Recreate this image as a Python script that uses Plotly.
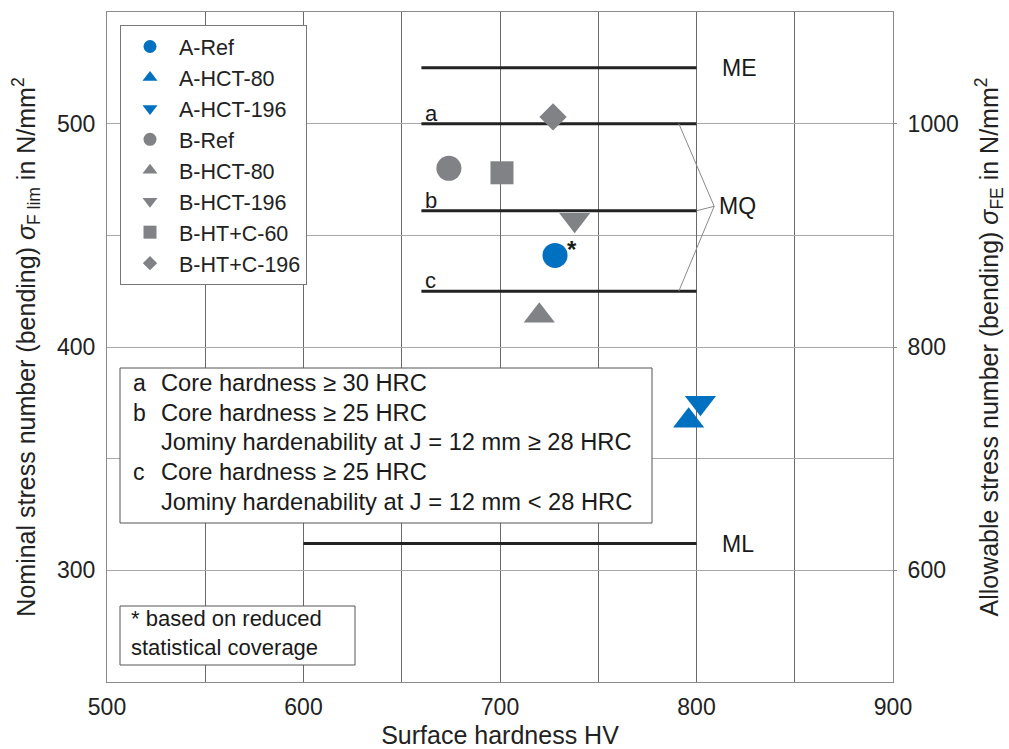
import plotly.graph_objects as go

# Test results: surface hardness (HV) vs. nominal bending stress number (N/mm^2)
series_names = ["A-Ref", "A-HCT-80", "A-HCT-196", "B-Ref", "B-HCT-80",
                "B-HCT-196", "B-HT+C-60", "B-HT+C-196"]
hardness_hv = [728, 796, 802, 674, 720, 738, 701, 727]
stress_flim = [441, 367, 375, 480, 414, 457, 478, 503]
series_colors = ["#0070C0", "#0070C0", "#0070C0", "#808285", "#808285",
                 "#808285", "#808285", "#808285"]
series_symbols = ["circle", "triangle-up", "triangle-down", "circle",
                  "triangle-up", "triangle-down", "square", "diamond"]
series_sizes = [25, 27, 27, 25, 27, 27, 23, 21]
series_notes = ["*", "", "", "", "", "", "", ""]

# Material quality limits (ISO 6336-5, case hardened steel)
limit_names = ["ME", "a", "b", "c", "ML"]
limit_stress = [525, 500, 461, 425, 312]
limit_hv_from = [660, 660, 660, 660, 600]
limit_hv_to = [800, 800, 800, 800, 800]

# Bracket joining the three MQ lines to their label
mq_bracket_hv = [791, 809, 800, None, 809, 791]
mq_bracket_stress = [500, 463, 461, None, 463, 425]

# Key text for the MQ sub-lines
key_letters = ["a", "b", "", "c", ""]
key_lines = ["Core hardness ≥ 30 HRC",
             "Core hardness ≥ 25 HRC",
             "Jominy hardenability at J = 12 mm ≥ 28 HRC",
             "Core hardness ≥ 25 HRC",
             "Jominy hardenability at J = 12 mm < 28 HRC"]
footnote_lines = ["* based on reduced", "statistical coverage"]

FONT = "Liberation Sans, Arial, sans-serif"
LINE_BLACK = "#222222"
TEXT = "#1a1a1a"

# plot-area geometry in pixels (for boxed notes placed in paper coords)
W, H = 1009, 749
ML_, MR_, MT_, MB_ = 107, 116, 12, 67
PW, PH = W - ML_ - MR_, H - MT_ - MB_


def px_x(px):
    return (px - ML_) / PW


def px_y(py):
    return (H - MB_ - py) / PH


fig = go.Figure()

for name, xs, xe, y in zip(limit_names, limit_hv_from, limit_hv_to, limit_stress):
    fig.add_trace(go.Scatter(
        x=[xs, xe], y=[y, y], mode="lines",
        line=dict(color=LINE_BLACK, width=3),
        showlegend=False, hoverinfo="skip"))

fig.add_trace(go.Scatter(
    x=mq_bracket_hv, y=mq_bracket_stress, mode="lines",
    line=dict(color="#8a8a8a", width=1),
    showlegend=False, hoverinfo="skip", connectgaps=False))

for name, x, y, c, s, sz, note in zip(series_names, hardness_hv, stress_flim,
                                      series_colors, series_symbols,
                                      series_sizes, series_notes):
    fig.add_trace(go.Scatter(
        x=[x], y=[y], mode="markers",
        marker=dict(symbol=s, color=c, size=sz, line=dict(width=0)),
        name=name, showlegend=False))
    if note:
        fig.add_annotation(x=x, y=y, text="<b>" + note + "</b>", showarrow=False,
                           xanchor="left", yanchor="middle",
                           xshift=10, yshift=6,
                           font=dict(family=FONT, size=24, color=TEXT))
    # legend entry with a smaller symbol
    fig.add_trace(go.Scatter(
        x=[None], y=[None], mode="markers",
        marker=dict(symbol=s, color=c, size=13 if s != "diamond" else 11,
                    line=dict(width=0)),
        name=name, showlegend=True))

# secondary scale: allowable stress number
fig.add_trace(go.Scatter(x=[None], y=[None], yaxis="y2", showlegend=False,
                         hoverinfo="skip"))

# Limit labels
for name, y in zip(limit_names, limit_stress):
    if name in ("ME", "ML"):
        fig.add_annotation(x=812, y=y, text=name, showarrow=False,
                           xanchor="left", yanchor="middle",
                           font=dict(family=FONT, size=23, color=TEXT))
    else:
        fig.add_annotation(x=660, y=y, text=name, showarrow=False,
                           xanchor="left", yanchor="bottom", yshift=-4, xshift=2,
                           font=dict(family=FONT, size=22, color=TEXT))
fig.add_annotation(x=mq_bracket_hv[1], y=mq_bracket_stress[1], text="MQ",
                   showarrow=False, xanchor="left", yanchor="middle", xshift=3,
                   font=dict(family=FONT, size=23, color=TEXT))

# Key box
fig.add_shape(type="rect", xref="paper", yref="paper",
              x0=px_x(120), x1=px_x(652), y0=px_y(523), y1=px_y(368),
              line=dict(color="#555555", width=1), fillcolor="white", layer="above")
for i, (letter, line) in enumerate(zip(key_letters, key_lines)):
    yc = px_y(383 + i * 29.7)
    if letter:
        fig.add_annotation(xref="paper", yref="paper", x=px_x(131), y=yc,
                           text=letter, showarrow=False,
                           xanchor="left", yanchor="middle",
                           font=dict(family=FONT, size=23, color=TEXT))
    fig.add_annotation(xref="paper", yref="paper", x=px_x(159), y=yc,
                       text=line, showarrow=False,
                       xanchor="left", yanchor="middle",
                       font=dict(family=FONT, size=23.7, color=TEXT))

# Footnote box
fig.add_shape(type="rect", xref="paper", yref="paper",
              x0=px_x(120), x1=px_x(355), y0=px_y(665), y1=px_y(606),
              line=dict(color="#555555", width=1), fillcolor="white", layer="above")
for i, line in enumerate(footnote_lines):
    fig.add_annotation(xref="paper", yref="paper", x=px_x(129),
                       y=px_y(618 + i * 29), text=line, showarrow=False,
                       xanchor="left", yanchor="middle",
                       font=dict(family=FONT, size=22, color=TEXT))

fig.update_layout(
    width=W, height=H,
    margin=dict(l=ML_, r=MR_, t=MT_, b=MB_),
    paper_bgcolor="white", plot_bgcolor="white",
    font=dict(family=FONT, size=22, color="#222222"),
    showlegend=True,
    legend=dict(x=px_x(120), y=px_y(25), xanchor="left", yanchor="top",
                bgcolor="white", bordercolor="#777777", borderwidth=1,
                font=dict(family=FONT, size=21.5, color="#222222"),
                itemwidth=48),
    xaxis=dict(range=[500, 900], tickmode="linear", tick0=500, dtick=100,
               showgrid=True, gridcolor="#6a6a6a", gridwidth=1,
               minor=dict(tickmode="linear", tick0=500, dtick=50,
                          showgrid=True, gridcolor="#6a6a6a", gridwidth=1),
               showline=True, mirror=True, linecolor="#8a8a8a", linewidth=1,
               zeroline=False, ticks="", ticklabelstandoff=4,
               automargin=False,
               tickfont=dict(family=FONT, size=23, color="#222222"),
               title=dict(text="Surface hardness HV", standoff=21,
                          font=dict(family=FONT, size=25, color="#222222"))),
    yaxis=dict(range=[250, 550], tickmode="linear", tick0=300, dtick=100,
               showgrid=True, gridcolor="#a8a8a8", gridwidth=1,
               minor=dict(tickmode="linear", tick0=300, dtick=50,
                          showgrid=True, gridcolor="#a8a8a8", gridwidth=1),
               showline=True, mirror=False,
               linecolor="#8a8a8a", linewidth=1, zeroline=False,
               ticks="", ticklabelstandoff=6, automargin=False,
               tickfont=dict(family=FONT, size=23, color="#222222"),
               title=dict(text="Nominal stress number (bending) <i>σ</i><sub>F lim</sub> in N/mm<sup>2</sup>",
                          standoff=14,
                          font=dict(family=FONT, size=25, color="#222222"))),
    yaxis2=dict(range=[500, 1100], tickmode="linear", tick0=600, dtick=200,
                overlaying="y", side="right", showgrid=False,
                showline=True, linecolor="#8a8a8a", linewidth=1,
                zeroline=False, ticks="outside", ticklen=3,
                tickcolor="#8a8a8a", ticklabelstandoff=6, automargin=False,
                tickfont=dict(family=FONT, size=23, color="#222222"),
                title=dict(text="Allowable stress number (bending) <i>σ</i><sub>FE</sub> in N/mm<sup>2</sup>",
                           standoff=22,
                           font=dict(family=FONT, size=25, color="#222222"))),
)

fig.write_html("out.html")
